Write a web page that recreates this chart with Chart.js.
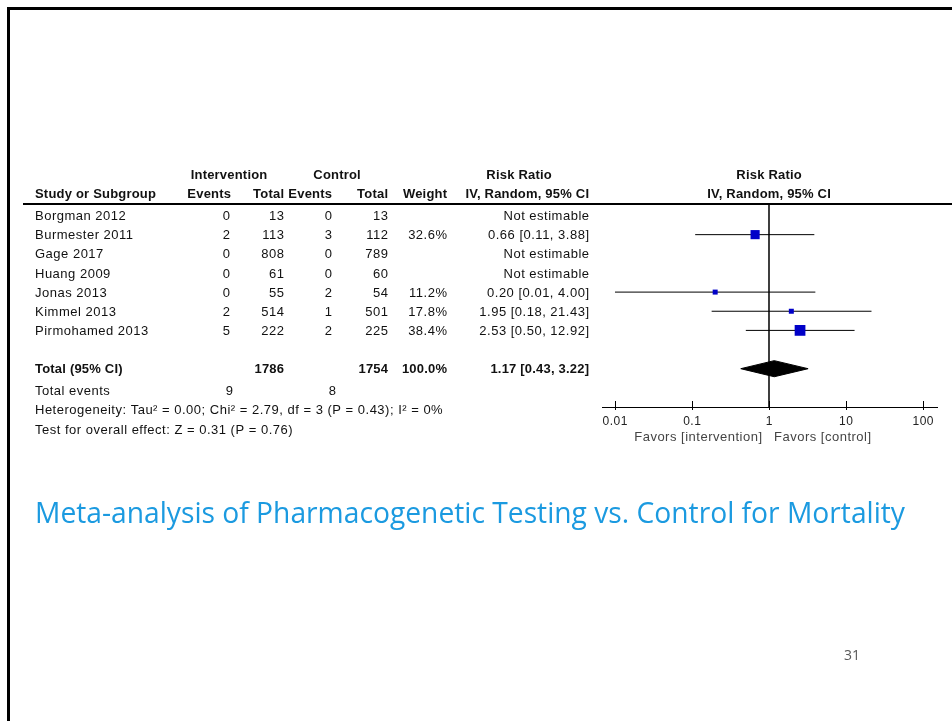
<!DOCTYPE html>
<html>
<head>
<meta charset="utf-8">
<script src="https://cdn.jsdelivr.net/npm/chart.js@4.4.1/dist/chart.umd.min.js"></script>
<style>
  html, body { margin: 0; padding: 0; background: #fff; }
  #forest { display: block; }
</style>
</head>
<body>
<canvas id="forest" width="952" height="721"></canvas>
<script>
// study rows
const studies = ['Borgman 2012', 'Burmester 2011', 'Gage 2017', 'Huang 2009', 'Jonas 2013', 'Kimmel 2013', 'Pirmohamed 2013'];
const intEvents = [0, 2, 0, 0, 0, 2, 5];
const intTotal = [13, 113, 808, 61, 55, 514, 222];
const ctrlEvents = [0, 3, 0, 0, 2, 1, 2];
const ctrlTotal = [13, 112, 789, 60, 54, 501, 225];
const weights = [null, 32.6, null, null, 11.2, 17.8, 38.4];
const riskRatio = [null, 0.66, null, null, 0.20, 1.95, 2.53];
const ciLow = [null, 0.11, null, null, 0.01, 0.18, 0.50];
const ciHigh = [null, 3.88, null, null, 4.00, 21.43, 12.92];

// pooled result
const totalRow = 8;
const totalInt = 1786;
const totalCtrl = 1754;
const totalWeight = 100.0;
const pooledRR = 1.17;
const pooledLow = 0.43;
const pooledHigh = 3.22;
const totalEventsInt = 9;
const totalEventsCtrl = 8;
const heterogeneity = 'Heterogeneity: Tau\u00b2 = 0.00; Chi\u00b2 = 2.79, df = 3 (P = 0.43); I\u00b2 = 0%';
const overallTest = 'Test for overall effect: Z = 0.31 (P = 0.76)';

// axis
const xTicks = [0.01, 0.1, 1, 10, 100];
const tickLabels = ['0.01', '0.1', '1', '10', '100'];
const favorsLeft = 'Favors [intervention]';
const favorsRight = 'Favors [control]';

const title = 'Meta-analysis of Pharmacogenetic Testing vs. Control for Mortality';
const slideNumber = '31';

const FONT = '"Liberation Sans", Arial, sans-serif';
const BLUE = '#0000c8';

function ciText(rr, lo, hi) {
    return rr.toFixed(2) + ' [' + lo.toFixed(2) + ', ' + hi.toFixed(2) + ']';
}

const squarePoints = [];
const squareRadius = [];
const ciDatasets = [];
studies.forEach((s, i) => {
    if (riskRatio[i] == null) return;
    squarePoints.push({ x: riskRatio[i], y: i });
    const side = Math.max(5, weights[i] * 0.28);
    squareRadius.push(side / Math.SQRT2);
    ciDatasets.push({
        type: 'line',
        data: [{ x: ciLow[i], y: i }, { x: ciHigh[i], y: i }],
        borderColor: '#000',
        borderWidth: 1,
        pointRadius: 0,
        clip: false
    });
});

const dh = 0.42; // diamond half height in row units
const diamond = [
    { x: pooledLow, y: totalRow },
    { x: pooledRR, y: totalRow - dh },
    { x: pooledHigh, y: totalRow },
    { x: pooledRR, y: totalRow + dh },
    { x: pooledLow, y: totalRow }
];

// table text, slide frame, axis drawn with the chart's scales
const tablePlugin = {
    id: 'tablePlugin',
    beforeDraw(chart) {
        const ctx = chart.ctx;
        ctx.save();
        ctx.fillStyle = '#fff';
        ctx.fillRect(0, 0, chart.width, chart.height);
        ctx.fillStyle = '#000';
        ctx.fillRect(7, 7, chart.width - 7, 3);
        ctx.fillRect(7, 7, 3, chart.height - 7);
        ctx.restore();
    },
    afterDraw(chart) {
        const ctx = chart.ctx;
        const xs = chart.scales.x;
        const ys = chart.scales.y;
        const area = chart.chartArea;
        ctx.save();
        ctx.textBaseline = 'middle';
        ctx.fillStyle = '#111';

        const txt = (s, x, y, align, bold, size) => {
            ctx.font = (bold ? 'bold ' : '') + (size || 13) + 'px ' + FONT;
            ctx.letterSpacing = bold ? '0.2px' : '0.5px';
            ctx.textAlign = align || 'left';
            // letter spacing adds trailing space, compensate for right/center
            let dx = 0;
            if (align === 'right') dx = bold ? 0.2 : 0.5;
            if (align === 'center') dx = bold ? 0.1 : 0.25;
            ctx.fillText(s, x + dx, y);
        };

        // header
        const h1 = 175, h2 = 194;
        txt('Intervention', 229, h1, 'center', true);
        txt('Control', 337, h1, 'center', true);
        txt('Risk Ratio', 519, h1, 'center', true);
        txt('Study or Subgroup', 35, h2, 'left', true);
        txt('Events', 231, h2, 'right', true);
        txt('Total', 284, h2, 'right', true);
        txt('Events', 332, h2, 'right', true);
        txt('Total', 388, h2, 'right', true);
        txt('Weight', 447, h2, 'right', true);
        txt('IV, Random, 95% CI', 589, h2, 'right', true);
        const x1 = xs.getPixelForValue(1);
        txt('Risk Ratio', x1, h1, 'center', true);
        txt('IV, Random, 95% CI', x1, h2, 'center', true);
        ctx.fillStyle = '#000';
        ctx.fillRect(23, 203, chart.width - 23, 2);
        ctx.fillStyle = '#111';

        // study rows
        studies.forEach((s, i) => {
            const y = ys.getPixelForValue(i) + 1;
            txt(s, 35, y);
            txt(String(intEvents[i]), 230, y, 'right');
            txt(String(intTotal[i]), 284, y, 'right');
            txt(String(ctrlEvents[i]), 332, y, 'right');
            txt(String(ctrlTotal[i]), 388, y, 'right');
            if (weights[i] != null) txt(weights[i].toFixed(1) + '%', 447, y, 'right');
            txt(riskRatio[i] == null ? 'Not estimable' : ciText(riskRatio[i], ciLow[i], ciHigh[i]), 589, y, 'right');
        });

        // total rows
        const ty = ys.getPixelForValue(totalRow) + 1;
        txt('Total (95% CI)', 35, ty, 'left', true);
        txt(String(totalInt), 284, ty, 'right', true);
        txt(String(totalCtrl), 388, ty, 'right', true);
        txt(totalWeight.toFixed(1) + '%', 447, ty, 'right', true);
        txt(ciText(pooledRR, pooledLow, pooledHigh), 589, ty, 'right', true);
        txt('Total events', 35, ty + 22);
        txt(String(totalEventsInt), 233, ty + 22, 'right');
        txt(String(totalEventsCtrl), 336, ty + 22, 'right');
        txt(heterogeneity, 35, ty + 41);
        txt(overallTest, 35, ty + 61);

        // x axis
        const ay = area.bottom;
        ctx.strokeStyle = '#000';
        ctx.lineWidth = 1;
        ctx.beginPath();
        ctx.moveTo(area.left, ay + 0.5);
        ctx.lineTo(area.right, ay + 0.5);
        xTicks.forEach(v => {
            const px = Math.round(xs.getPixelForValue(v)) + 0.5;
            ctx.moveTo(px, ay - 6);
            ctx.lineTo(px, ay + 3);
        });
        ctx.stroke();
        ctx.fillStyle = '#222';
        xTicks.forEach((v, i) => txt(tickLabels[i], xs.getPixelForValue(v), ay + 15, 'center', false, 12));
        ctx.fillStyle = '#444';
        txt(favorsLeft, x1 - 7, ay + 30, 'right', false, 13);
        txt(favorsRight, x1 + 5, ay + 30, 'left', false, 13);

        // slide title, fitted to the reference width
        ctx.letterSpacing = '0px';
        ctx.textAlign = 'left';
        ctx.font = '24px "Open Sans", sans-serif';
        const w = ctx.measureText(title).width;
        const size = 24 * 870 / w;
        ctx.font = size.toFixed(2) + 'px "Open Sans", sans-serif';
        ctx.fillStyle = '#1b9ae0';
        ctx.fillText(title, 35, 515);

        ctx.fillStyle = '#595959';
        ctx.font = '14px "Open Sans", sans-serif';
        ctx.textAlign = 'center';
        ctx.fillText(slideNumber, 852, 656);
        ctx.restore();
    }
};

new Chart(document.getElementById('forest'), {
    type: 'line',
    data: {
        datasets: [
            {
                type: 'scatter',
                data: squarePoints,
                pointStyle: 'rect',
                pointRadius: squareRadius,
                pointHoverRadius: squareRadius,
                backgroundColor: BLUE,
                borderColor: BLUE,
                borderWidth: 0,
                clip: false
            },
            {
                type: 'line',
                data: diamond,
                borderColor: '#000',
                borderWidth: 1,
                backgroundColor: '#000',
                fill: 'shape',
                pointRadius: 0,
                tension: 0,
                clip: false
            },
            ...ciDatasets,
            {
                type: 'line',
                data: [{ x: 1, y: -0.6 }, { x: 1, y: 10 }],
                borderColor: '#000',
                borderWidth: 1.5,
                pointRadius: 0,
                clip: false
            }
        ]
    },
    options: {
        responsive: false,
        animation: false,
        devicePixelRatio: 1,
        layout: { padding: { left: 602, right: 14, top: 204, bottom: 314 } },
        plugins: { legend: { display: false }, tooltip: { enabled: false } },
        events: [],
        scales: {
            x: {
                type: 'logarithmic',
                min: 0.00678,
                max: 156.6,
                display: false
            },
            y: {
                type: 'linear',
                min: -0.6,
                max: 10,
                reverse: true,
                display: false
            }
        }
    },
    plugins: [tablePlugin]
});
</script>
</body>
</html>
